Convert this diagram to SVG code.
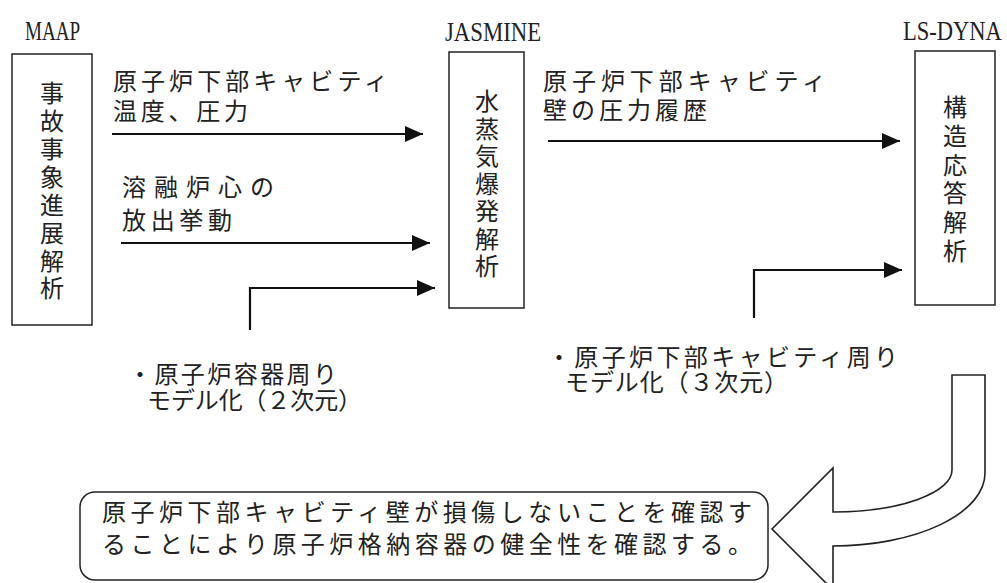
<svg xmlns="http://www.w3.org/2000/svg" width="1007" height="583" viewBox="0 0 1007 583">
<defs>
<marker id="ah" markerUnits="userSpaceOnUse" markerWidth="18" markerHeight="16" refX="18" refY="8" orient="auto">
<path d="M0,0 L18,8 L0,16 Z" fill="#111"/>
</marker>
<style>
.box{fill:#fff;stroke:#222;stroke-width:1.5}
.lbl{font-family:"Liberation Serif",serif;font-size:23px;fill:#222}
.jp{font-family:"Noto Sans CJK JP","Noto Sans",sans-serif;font-size:24px;fill:#222}
.vt{font-family:"Noto Sans CJK JP","Noto Sans",sans-serif;font-size:24px;fill:#222;text-anchor:middle}
.conn{fill:none;stroke:#111;stroke-width:2.2;marker-end:url(#ah)}
</style>
</defs>
<rect width="1007" height="583" fill="#fff"/>

<g id="maap">
<text class="lbl" transform="translate(25,40) scale(0.83,1.18)" x="0" y="0">MAAP</text>
<rect class="box" x="12" y="54" width="80" height="271"/>
<text class="vt"><tspan x="52" y="102">事</tspan><tspan x="52" y="130">故</tspan><tspan x="52" y="158">事</tspan><tspan x="52" y="185.5">象</tspan><tspan x="52" y="213.5">進</tspan><tspan x="52" y="241.5">展</tspan><tspan x="52" y="269.5">解</tspan><tspan x="52" y="297">析</tspan></text>
</g>

<g id="jasmine">
<text class="lbl" transform="translate(445,41) scale(0.99,1.18)" x="0" y="0">JASMINE</text>
<rect class="box" x="449" y="52" width="75" height="256"/>
<text class="vt"><tspan x="487" y="110">水</tspan><tspan x="487" y="137.5">蒸</tspan><tspan x="487" y="165">気</tspan><tspan x="487" y="192.5">爆</tspan><tspan x="487" y="220">発</tspan><tspan x="487" y="247.5">解</tspan><tspan x="487" y="275">析</tspan></text>
</g>

<g id="lsdyna">
<text class="lbl" transform="translate(903,40) scale(0.98,1.18)" x="0" y="0">LS-DYNA</text>
<rect class="box" x="915" y="51" width="80" height="254"/>
<text class="vt"><tspan x="955" y="116">構</tspan><tspan x="955" y="144.8">造</tspan><tspan x="955" y="173.6">応</tspan><tspan x="955" y="202.4">答</tspan><tspan x="955" y="231.2">解</tspan><tspan x="955" y="260">析</tspan></text>
</g>

<g id="labels">
<text class="jp" x="113" y="90" textLength="275">原子炉下部キャビティ</text>
<text class="jp" x="113" y="120" textLength="135">温度、圧力</text>
<text class="jp" x="122" y="196" textLength="152">溶融炉心の</text>
<text class="jp" x="122" y="229" textLength="110">放出挙動</text>
<text class="jp" x="128" y="383" textLength="209">・原子炉容器周り</text>
<text class="jp" x="147" y="409" textLength="215">モデル化（２次元）</text>
<text class="jp" x="543" y="90" textLength="283">原子炉下部キャビティ</text>
<text class="jp" x="543" y="119" textLength="164">壁の圧力履歴</text>
<text class="jp" x="547" y="366" textLength="351">・原子炉下部キャビティ周り</text>
<text class="jp" x="565" y="391" textLength="223">モデル化（３次元）</text>
</g>

<g id="connectors">
<path class="conn" d="M112,134 H423"/>
<path class="conn" d="M121,243 H430"/>
<path class="conn" d="M250,330 V288 H435"/>
<path class="conn" d="M548,141 H900"/>
<path class="conn" d="M754,318 V270 H902"/>
</g>

<g id="big-arrow">
<path d="M952,375 H985 V473 A152,73 0 0 1 833,546 V590 L772,529 L833,468 V512 A119,42 0 0 0 952,470 Z" fill="#fff" stroke="#222" stroke-width="1.6" stroke-linejoin="miter"/>
</g>

<g id="conclusion">
<rect class="box" x="80" y="492" width="688" height="88" rx="15" ry="15"/>
<text class="jp" x="102" y="521" textLength="650">原子炉下部キャビティ壁が損傷しないことを確認す</text>
<text class="jp" x="102" y="553" textLength="650">ることにより原子炉格納容器の健全性を確認する。</text>
</g>
</svg>
